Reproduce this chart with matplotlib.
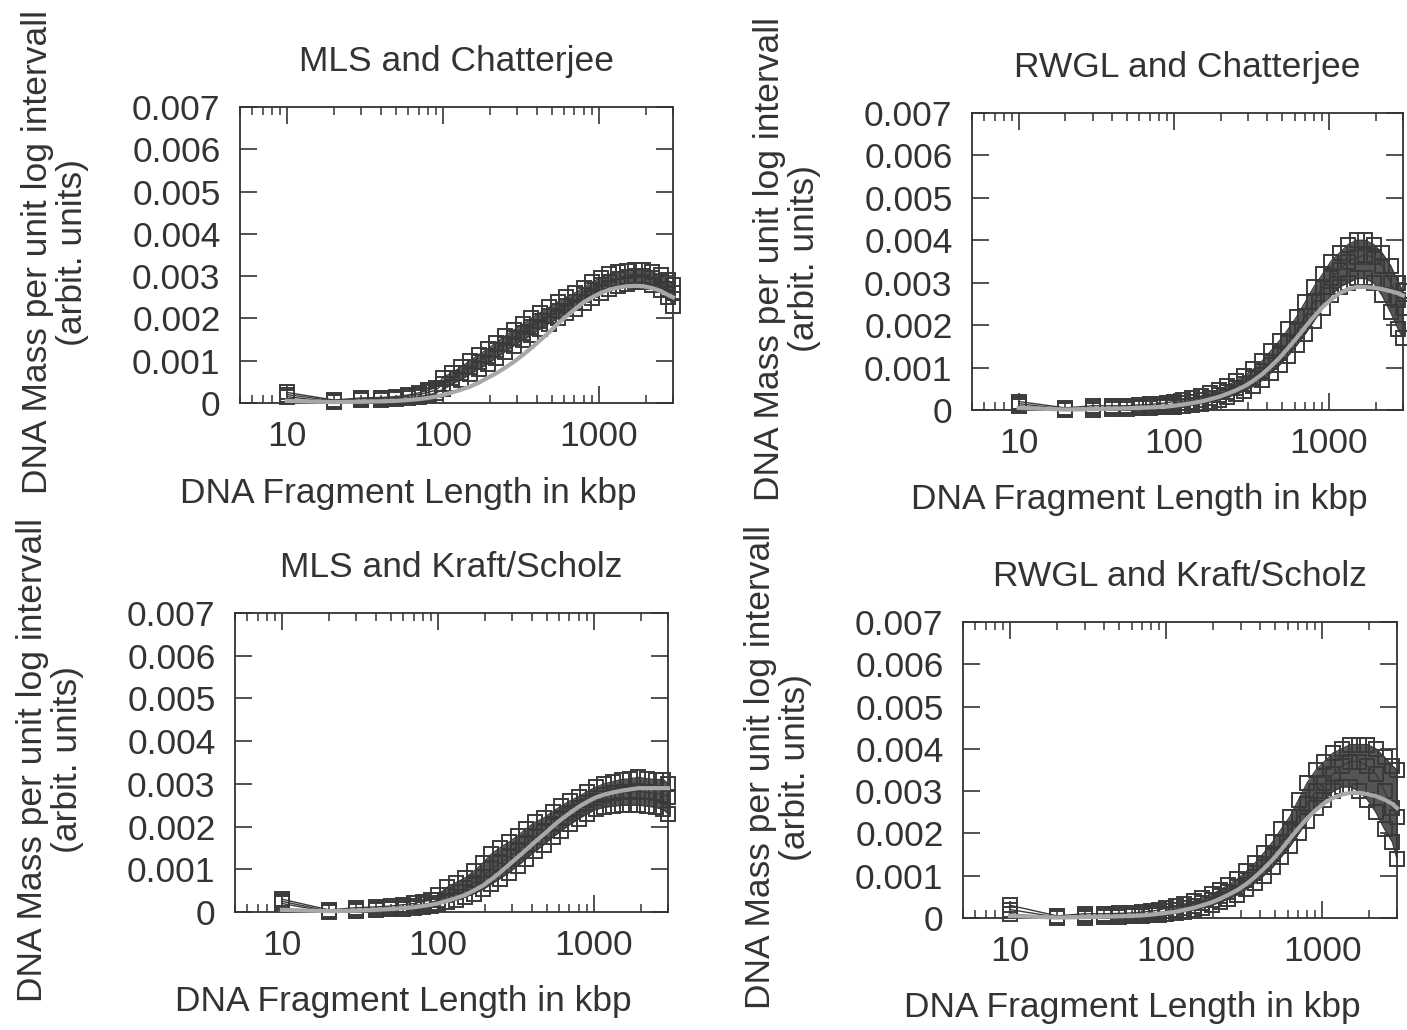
import matplotlib
matplotlib.use("Agg")
import matplotlib.pyplot as plt
from matplotlib.ticker import LogLocator, FixedLocator, NullFormatter

plt.rcParams['font.family'] = ['Liberation Sans', 'DejaVu Sans']

# ---------------- data ----------------
kbp = [10, 20, 30, 40, 50, 60, 70, 80, 90, 100, 115, 130, 150, 170, 195, 220,
       250, 285, 325, 370, 420, 480, 545, 620, 705, 800, 910, 1030, 1170, 1330,
       1510, 1710, 1940, 2200, 2500, 2800, 3000]

# MLS and Chatterjee
mls_chat_upper = [0.00025, 0.00007, 0.00012, 0.00013, 0.00015, 0.00019, 0.00024, 0.0003, 0.00036, 0.0006,
                  0.00072, 0.00084, 0.001, 0.00114, 0.00128, 0.00143, 0.00158, 0.00172, 0.00186, 0.002,
                  0.00213, 0.00226, 0.00238, 0.0025, 0.0026, 0.00273, 0.00286, 0.00296, 0.00304, 0.00309,
                  0.00312, 0.00314, 0.00314, 0.0031, 0.00302, 0.0029, 0.0028]
mls_chat_mid = [0.0002, 0.00005, 0.0001, 0.00011, 0.00013, 0.00016, 0.0002, 0.00025, 0.0003, 0.00045,
                0.0006, 0.0007, 0.00085, 0.00098, 0.0011, 0.00125, 0.0014, 0.00153, 0.00166, 0.0018,
                0.00193, 0.00205, 0.00218, 0.0023, 0.0024, 0.00255, 0.00268, 0.00278, 0.00287, 0.00293,
                0.00297, 0.003, 0.003, 0.00295, 0.00285, 0.0027, 0.0026]
mls_chat_lower = [0.00015, 0.00002, 0.00006, 0.00008, 0.0001, 0.00012, 0.00015, 0.00019, 0.00023, 0.00032,
                  0.00045, 0.00055, 0.00068, 0.0008, 0.00093, 0.00107, 0.00121, 0.00135, 0.00148, 0.00161,
                  0.00175, 0.00188, 0.002, 0.00212, 0.00223, 0.00236, 0.00249, 0.0026, 0.0027, 0.00277,
                  0.00282, 0.00285, 0.00285, 0.0028, 0.00268, 0.0025, 0.0023]
mls_chat_gray = [0.00005, 0.00002, 0.00003, 0.00004, 0.00005, 0.00007, 0.00009, 0.00012, 0.00015, 0.00019,
                 0.00025, 0.00031, 0.00039, 0.00048, 0.0006, 0.0007, 0.00083, 0.00097, 0.00113, 0.0013,
                 0.00148, 0.00167, 0.00187, 0.00205, 0.00222, 0.00238, 0.0025, 0.0026, 0.00268, 0.00273,
                 0.00276, 0.00277, 0.00276, 0.00272, 0.00265, 0.00255, 0.0025]

# RWGL and Chatterjee
rwgl_chat_upper = [0.0002, 0.00005, 0.0001, 0.0001, 0.0001, 0.00012, 0.00013, 0.00015, 0.00017, 0.0002,
                   0.00024, 0.00028, 0.00033, 0.0004, 0.00048, 0.00057, 0.00068, 0.0008, 0.00096, 0.00115,
                   0.00138, 0.00163, 0.0019, 0.0022, 0.00255, 0.0029, 0.0032, 0.0035, 0.0037, 0.0039,
                   0.004, 0.004, 0.0039, 0.0037, 0.0034, 0.003, 0.0028]
rwgl_chat_mid = [0.00015, 0.00002, 0.00005, 0.00006, 0.00007, 0.00008, 0.00009, 0.0001, 0.00012, 0.00014,
                 0.00017, 0.0002, 0.00024, 0.00029, 0.00036, 0.00043, 0.00051, 0.00062, 0.00076, 0.00093,
                 0.00113, 0.00135, 0.0016, 0.00188, 0.00222, 0.00255, 0.0029, 0.0031, 0.0033, 0.0035,
                 0.0036, 0.00365, 0.0036, 0.0034, 0.003, 0.0026, 0.0024]
rwgl_chat_lower = [0.0001, 0.0, 0.00001, 0.00002, 0.00003, 0.00004, 0.00005, 0.00006, 0.00007, 0.00008,
                   0.0001, 0.00012, 0.00015, 0.00019, 0.00024, 0.0003, 0.00037, 0.00045, 0.00056, 0.0007,
                   0.00087, 0.00106, 0.00128, 0.00153, 0.0018, 0.0021, 0.0024, 0.0027, 0.0029, 0.003,
                   0.0031, 0.0031, 0.003, 0.0027, 0.0023, 0.0019, 0.0017]
rwgl_chat_gray = [0.00005, 0.00001, 0.00002, 0.00003, 0.00004, 0.00005, 0.00006, 0.00007, 0.00008, 0.0001,
                  0.00013, 0.00016, 0.0002, 0.00025, 0.00031, 0.00038, 0.00046, 0.00056, 0.00069, 0.00084,
                  0.00102, 0.00123, 0.00146, 0.0017, 0.00196, 0.0022, 0.00243, 0.0026, 0.00275, 0.00285,
                  0.0029, 0.0029, 0.00288, 0.00285, 0.0028, 0.00275, 0.0027]

# MLS and Kraft/Scholz
mls_kraft_upper = [0.0003, 0.00005, 0.0001, 0.00012, 0.00014, 0.00017, 0.0002, 0.00024, 0.00028, 0.0004,
                   0.00058, 0.00068, 0.0008, 0.00095, 0.00115, 0.00135, 0.0015, 0.00163, 0.00178, 0.00195,
                   0.0021, 0.0022, 0.00235, 0.00248, 0.0026, 0.0027, 0.00282, 0.00292, 0.003, 0.00305,
                   0.0031, 0.00312, 0.00315, 0.00312, 0.0031, 0.0031, 0.003]
mls_kraft_mid = [0.00025, 0.00002, 0.00005, 0.00008, 0.0001, 0.00012, 0.00015, 0.00018, 0.00021, 0.00028,
                 0.0004, 0.00047, 0.00057, 0.00068, 0.00083, 0.001, 0.00114, 0.00128, 0.00143, 0.0016,
                 0.00176, 0.0019, 0.00205, 0.00219, 0.00232, 0.00244, 0.00256, 0.00266, 0.00273, 0.00278,
                 0.0028, 0.00281, 0.00282, 0.0028, 0.00278, 0.00275, 0.0027]
mls_kraft_lower = [0.0002, 0.0, 0.00002, 0.00004, 0.00006, 0.00008, 0.0001, 0.00012, 0.00015, 0.00018,
                   0.00023, 0.00028, 0.00035, 0.00043, 0.00053, 0.00065, 0.00078, 0.00092, 0.00108, 0.00125,
                   0.00142, 0.00158, 0.00175, 0.0019, 0.00205, 0.00218, 0.0023, 0.0024, 0.00245, 0.00248,
                   0.0025, 0.0025, 0.0025, 0.00248, 0.00245, 0.0024, 0.0023]
mls_kraft_gray = [0.00005, 0.00002, 0.00003, 0.00005, 0.00007, 0.00009, 0.00011, 0.00014, 0.00017, 0.0002,
                  0.00026, 0.00032, 0.0004, 0.0005, 0.00062, 0.00076, 0.00092, 0.0011, 0.00128, 0.00146,
                  0.00164, 0.00182, 0.002, 0.00217, 0.00232, 0.00246, 0.00258, 0.00268, 0.00275, 0.0028,
                  0.00284, 0.00287, 0.0029, 0.0029, 0.0029, 0.0029, 0.0029]

# RWGL and Kraft/Scholz
rwgl_kraft_upper = [0.0003, 0.00005, 0.0001, 0.0001, 0.00011, 0.00012, 0.00014, 0.00016, 0.00019, 0.00023,
                    0.00028, 0.00033, 0.0004, 0.00047, 0.00056, 0.00066, 0.00078, 0.00092, 0.0011, 0.0013,
                    0.00153, 0.0018, 0.0021, 0.0024, 0.0028, 0.0032, 0.0035, 0.0037, 0.0039, 0.004,
                    0.0041, 0.0041, 0.0041, 0.004, 0.0038, 0.0036, 0.0035]
rwgl_kraft_mid = [0.0002, 0.00002, 0.00005, 0.00006, 0.00007, 0.00008, 0.00009, 0.00011, 0.00013, 0.00016,
                  0.0002, 0.00024, 0.00029, 0.00035, 0.00043, 0.00052, 0.00062, 0.00074, 0.00089, 0.00107,
                  0.00128, 0.00152, 0.0018, 0.0021, 0.0024, 0.0027, 0.003, 0.0032, 0.0034, 0.0036,
                  0.0037, 0.0037, 0.0036, 0.0034, 0.003, 0.0026, 0.0024]
rwgl_kraft_lower = [0.0001, 0.0, 0.00001, 0.00002, 0.00003, 0.00004, 0.00005, 0.00006, 0.00007, 0.00009,
                    0.00012, 0.00015, 0.00019, 0.00024, 0.0003, 0.00037, 0.00045, 0.00055, 0.00068, 0.00083,
                    0.001, 0.0012, 0.00145, 0.0017, 0.002, 0.0023, 0.0026, 0.0028, 0.003, 0.0031,
                    0.0031, 0.003, 0.0028, 0.0025, 0.0021, 0.0018, 0.0014]
rwgl_kraft_gray = [0.00005, 0.00001, 0.00002, 0.00003, 0.00004, 0.00005, 0.00006, 0.00008, 0.0001, 0.00012,
                   0.00015, 0.00019, 0.00024, 0.0003, 0.00037, 0.00045, 0.00055, 0.00066, 0.0008, 0.00097,
                   0.00116, 0.00138, 0.00162, 0.00188, 0.00213, 0.00236, 0.00256, 0.00272, 0.00284, 0.00292,
                   0.00296, 0.00296, 0.00293, 0.00288, 0.0028, 0.0027, 0.0026]

titles = ["MLS and Chatterjee", "RWGL and Chatterjee",
          "MLS and Kraft/Scholz", "RWGL and Kraft/Scholz"]
x_ticks = [10, 100, 1000]
x_tick_labels = ["10", "100", "1000"]
y_ticks = [0, 0.001, 0.002, 0.003, 0.004, 0.005, 0.006, 0.007]
y_tick_labels = ["0", "0.001", "0.002", "0.003", "0.004", "0.005", "0.006", "0.007"]
x_label = "DNA Fragment Length in kbp"
y_label = "DNA Mass per unit log intervall\n(arbit. units)"

panels = [
    (mls_chat_upper, mls_chat_mid, mls_chat_lower, mls_chat_gray),
    (rwgl_chat_upper, rwgl_chat_mid, rwgl_chat_lower, rwgl_chat_gray),
    (mls_kraft_upper, mls_kraft_mid, mls_kraft_lower, mls_kraft_gray),
    (rwgl_kraft_upper, rwgl_kraft_mid, rwgl_kraft_lower, rwgl_kraft_gray),
]

# ---------------- styling / layout ----------------
W, H = 1407, 1030
rects_px = [  # left, top, right, bottom in pixels
    (240, 107, 673, 403),
    (972, 113, 1403, 410),
    (235, 613, 668, 912),
    (963, 622, 1397, 918),
]
DARK = '#3a3a3a'
BAND = '#555555'
GRAY = '#a8a8a8'
TXT = '#333333'
FS = 25.5

fig = plt.figure(figsize=(W / 100, H / 100), dpi=100)
fig.patch.set_facecolor('white')

for (l, t, r, b), title, (up, mid, lo, gr) in zip(rects_px, titles, panels):
    ax = fig.add_axes([l / W, (H - b) / H, (r - l) / W, (b - t) / H])
    ax.fill_between(kbp[9:], lo[9:], up[9:], color=BAND, lw=0, zorder=2)
    for ys in (lo, mid, up):
        ax.plot(kbp, ys, color=DARK, lw=1.0, marker='s', ms=10.5,
                mfc='none', mec=DARK, mew=1.4, clip_on=False, zorder=3)
    ax.plot(kbp, gr, color=GRAY, lw=3.0, clip_on=False, zorder=4)

    ax.set_xscale('log')
    ax.set_xlim(5, 3000)
    ax.set_ylim(0, 0.007)
    ax.xaxis.set_major_locator(FixedLocator(x_ticks))
    ax.set_xticklabels(x_tick_labels)
    ax.xaxis.set_minor_locator(LogLocator(base=10, subs=(2, 3, 4, 5, 6, 7, 8, 9), numticks=20))
    ax.xaxis.set_minor_formatter(NullFormatter())
    ax.set_yticks(y_ticks)
    ax.set_yticklabels(y_tick_labels)

    ax.tick_params(which='major', direction='in', length=12, width=1.2,
                   top=True, right=True, colors=TXT, labelsize=FS)
    ax.tick_params(which='minor', direction='in', length=6, width=1.1,
                   top=True, bottom=True, colors=TXT)
    ax.tick_params(axis='y', which='major', pad=14)
    ax.tick_params(axis='x', which='major', pad=12)
    for sp in ax.spines.values():
        sp.set_linewidth(1.3)
        sp.set_color(TXT)

    ax.set_title(title, fontsize=FS, color=TXT, pad=26)

    wpx = r - l
    hpx = b - t
    ax.text(0.5 - 48 / wpx, -90 / hpx, x_label, transform=ax.transAxes,
            ha='center', va='center', fontsize=FS, color=TXT)
    ax.text(-185 / wpx, 0.51, y_label, transform=ax.transAxes, rotation=90,
            ha='center', va='center', multialignment='center',
            fontsize=FS, color=TXT, linespacing=1.1)

fig.savefig('out.png', dpi=100, facecolor='white')
